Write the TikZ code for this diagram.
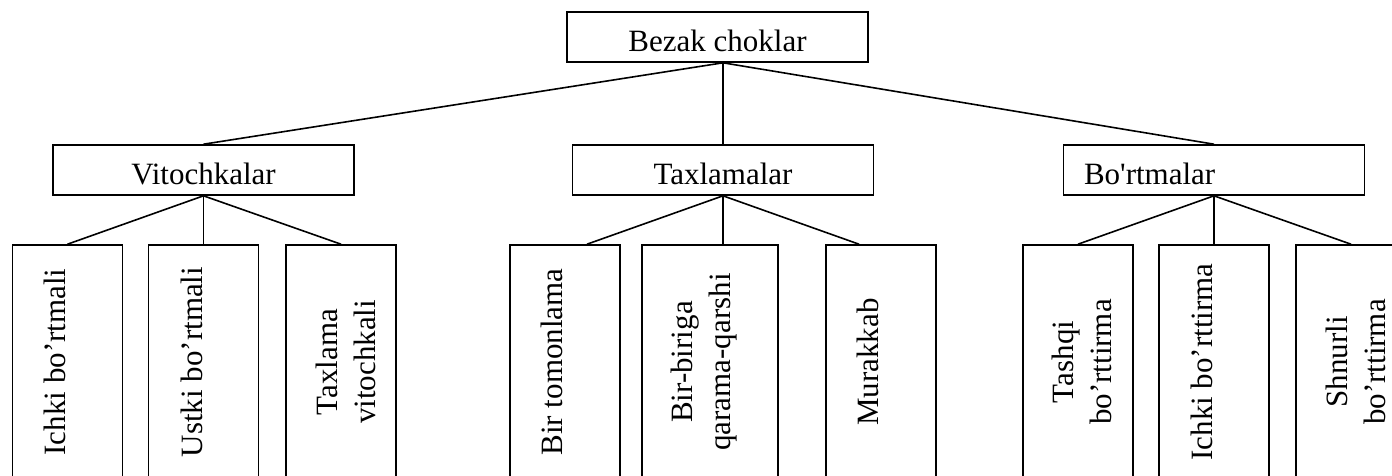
\documentclass[tikz,border=0pt]{standalone}
\usepackage{fontspec}
\setmainfont{Liberation Serif}[Ligatures=TeXOff]
\usetikzlibrary{calc}
\begin{document}
\begin{tikzpicture}[x=1pt,y=-1pt, line width=1.6pt,
  box/.style={draw, rectangle, inner sep=0pt, minimum height=50pt, minimum width=301pt,
    text height=28.5pt, text depth=0pt, font=\fontsize{31}{37}\selectfont},
  leaf/.style={draw, rectangle, inner sep=0pt, minimum width=110pt, minimum height=232pt},
  vtext/.style={rotate=90, anchor=base, inner sep=0pt, font=\fontsize{31}{37}\selectfont},
  link/.style={line width=1.6pt}]
\useasboundingbox (0,0) rectangle (1392,475);

% top and middle level
\node[box] (top) at (717.5,37) {Bezak choklar};
\node[box] (vit) at (203.5,170) {Vitochkalar};
\node[box] (tax) at (723,170) {Taxlamalar};
\node[box, text width=260pt, align=left, inner xsep=20.5pt] (bor) at (1214,170) {Bo'rtmalar};

% leaf boxes
\node[leaf] (l1) at (67.5,361) {};
\node[leaf] (l2) at (203.5,361) {};
\node[leaf] (l3) at (341,361) {};
\node[leaf] (l4) at (565,361) {};
\node[leaf, minimum width=136pt] (l5) at (710,361) {};
\node[leaf] (l6) at (881,361) {};
\node[leaf] (l7) at (1078,361) {};
\node[leaf] (l8) at (1214,361) {};
\node[leaf] (l9) at (1351,361) {};

% leaf texts
\node[vtext] (t1) at (65,362) {Ichki bo’rtmali};
\node[vtext] (t2) at (202,362) {Ustki bo’rtmali};
\node[vtext] (t3a) at (337,362) {Taxlama};
\node[vtext] (t3b) at (375,362) {vitochkali};
\node[vtext] (t4) at (562,362) {Bir tomonlama};
\node[vtext] (t5a) at (692,362) {Bir-biriga};
\node[vtext] (t5b) at (730,362) {qarama-qarshi};
\node[vtext] (t6) at (878,362) {Murakkab};
\node[vtext] (t7a) at (1073,362) {Tashqi};
\node[vtext] (t7b) at (1111,362) {bo’rttirma};
\node[vtext] (t8) at (1212,362) {Ichki bo’rttirma};
\node[vtext] (t9a) at (1347,362) {Shnurli};
\node[vtext] (t9b) at (1385,362) {bo’rttirma};

% connectors
\coordinate (tj) at (top.south -| tax.north);
\draw[link] (tj) -- (vit.north);
\draw[link] (tj) -- (tax.north);
\draw[link] (tj) -- (bor.north);

\draw[link] (vit.south) -- (l1.north);
\draw[link] (vit.south) -- (l2.north);
\draw[link] (vit.south) -- (l3.north);

\coordinate (e4) at ($(l4.north)+(22,0)$);
\coordinate (e5) at (tax.south |- l5.north);
\coordinate (e6) at ($(l6.north)+(-22,0)$);
\draw[link] (tax.south) -- (e4);
\draw[link] (tax.south) -- (e5);
\draw[link] (tax.south) -- (e6);

\draw[link] (bor.south) -- (l7.north);
\draw[link] (bor.south) -- (l8.north);
\draw[link] (bor.south) -- (l9.north);
\end{tikzpicture}
\end{document}
